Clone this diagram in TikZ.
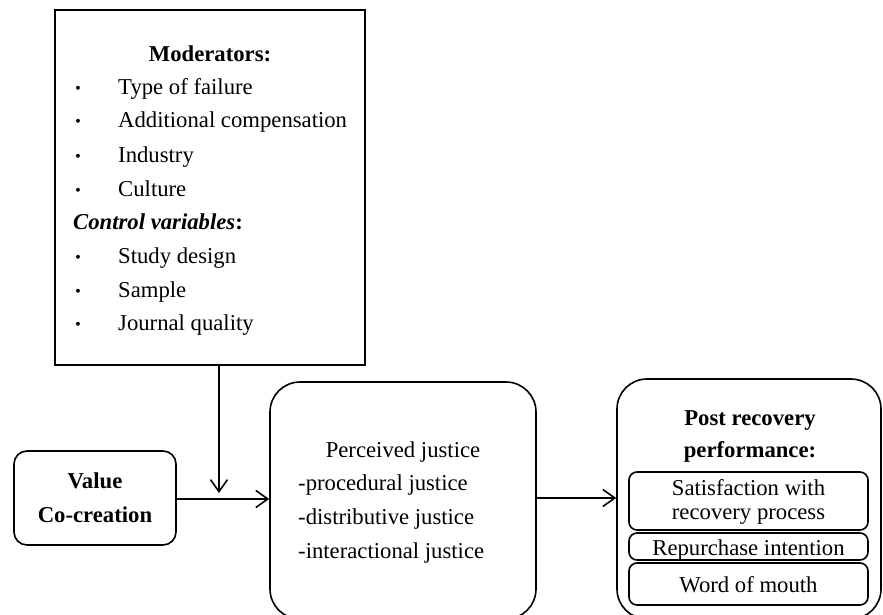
\documentclass[tikz,border=0pt]{standalone}
\usepackage{fontspec}
\setmainfont{Liberation Serif}
\usetikzlibrary{arrows.meta}
\begin{document}
\begin{tikzpicture}[x=1pt,y=-1pt,
  box/.style={draw, line width=1.6pt, inner sep=0},
  txt/.style={inner sep=0, anchor=base west, font=\fontsize{22.7}{27}\selectfont},
  ctxt/.style={inner sep=0, anchor=base, font=\fontsize{22.7}{27}\selectfont},
  dot/.style={inner sep=0, anchor=base west, font=\fontsize{26}{27}\selectfont\boldmath},
  arr/.style={line width=1.6pt, -{Straight Barb[length=12pt,width=17pt,line width=1.6pt]}}]
\useasboundingbox[fill=white] (0,0) rectangle (883,615);
% moderator box
\node[box, minimum width=310pt, minimum height=355pt] (mod) at (210,187.5) {};
\node[ctxt, font=\fontsize{22.7}{27}\selectfont\bfseries] (m0) at (210,62) {Moderators:};
\foreach \y/\t [count=\i] in {95/Type of failure,128/Additional compensation,162/Industry,196/Culture}{
  \node[dot] (b\i) at (74,\y) {$\cdot$};
  \node[txt] (m\i) at (118,\y) {\t};
}
\node[txt] (c0) at (73,229) {\textbf{\textit{Control variables}}\textbf{:}};
\foreach \y/\t [count=\i] in {263/Study design,297/Sample,330/Journal quality}{
  \node[dot] (cb\i) at (74,\y) {$\cdot$};
  \node[txt] (c\i) at (118,\y) {\t};
}
% value box
\node[box, rounded corners=13pt, minimum width=162pt, minimum height=94pt] (val) at (95,498) {};
\node[ctxt, font=\fontsize{22.7}{27}\selectfont\bfseries] (v1) at (95,488) {Value};
\node[ctxt, font=\fontsize{22.7}{27}\selectfont\bfseries] (v2) at (95,522) {Co-creation};
% justice box
\node[box, rounded corners=30pt, minimum width=266pt, minimum height=237pt] (jus) at (403,500.5) {};
\node[ctxt] (j0) at (403,457) {Perceived justice};
\node[txt] (j1) at (298,490) {-procedural justice};
\node[txt] (j2) at (298,524) {-distributive justice};
\node[txt] (j3) at (298,558) {-interactional justice};
% outcome box
\node[box, rounded corners=30pt, minimum width=264pt, minimum height=240pt] (out) at (749,499) {};
\node[ctxt, font=\fontsize{22.7}{27}\selectfont\bfseries] (p1) at (750,425) {Post recovery};
\node[ctxt, font=\fontsize{22.7}{27}\selectfont\bfseries] (p2) at (750,457) {performance:};
\node[box, rounded corners=8pt, minimum width=239pt, minimum height=58pt] (s1) at (748.5,501) {};
\node[ctxt] (s1a) at (748.5,495) {Satisfaction with};
\node[ctxt] (s1b) at (748.5,519) {recovery process};
\node[box, rounded corners=8pt, minimum width=239pt, minimum height=27pt] (s2) at (748.5,546.5) {};
\node[ctxt] (s2a) at (748.5,555) {Repurchase intention};
\node[box, rounded corners=8pt, minimum width=239pt, minimum height=42pt] (s3) at (748.5,584) {};
\node[ctxt] (s3a) at (748.5,592) {Word of mouth};
% arrows
\coordinate (ms) at ([xshift=9pt]mod.south);
\coordinate (hit) at (ms |- 0,493);
\draw[arr] (ms) -- (hit);
\draw[arr] ([yshift=-1pt]val.east) -- ([yshift=-1pt]val.east -| jus.west);
\draw[arr] (jus.east |- 0,498) -- (out.west |- 0,498);
\end{tikzpicture}
\end{document}
